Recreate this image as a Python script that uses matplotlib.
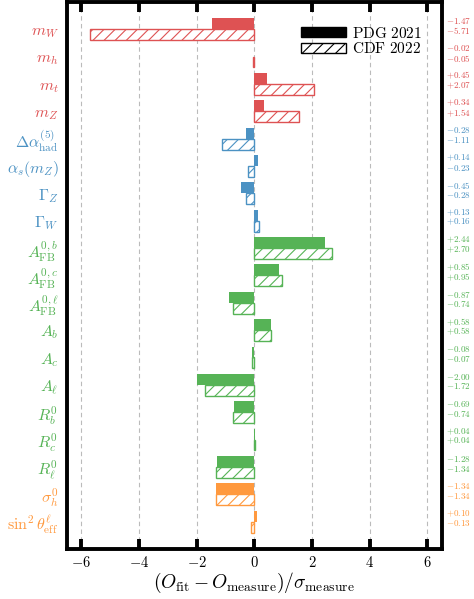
import numpy as np
import matplotlib
matplotlib.use("Agg")
import matplotlib.pyplot as plt
import matplotlib.patches as mpatches
from matplotlib.colors import to_rgb

plt.rcParams["mathtext.fontset"] = "cm"
plt.rcParams["font.family"] = ["DejaVu Serif"]
plt.rcParams["hatch.linewidth"] = 0.8

# --- observables and pulls -------------------------------------------------
labels = [
    r"$m_W$", r"$m_h$", r"$m_t$", r"$m_Z$",
    r"$\Delta\alpha^{(5)}_{\rm had}$", r"$\alpha_s(m_Z)$", r"$\Gamma_Z$", r"$\Gamma_W$",
    r"$A^{0,b}_{\rm FB}$", r"$A^{0,c}_{\rm FB}$", r"$A^{0,\ell}_{\rm FB}$",
    r"$A_b$", r"$A_c$", r"$A_\ell$",
    r"$R^0_b$", r"$R^0_c$", r"$R^0_\ell$",
    r"$\sigma^0_h$", r"$\sin^2\theta^\ell_{\rm eff}$",
]
groups = ["red"] * 4 + ["blue"] * 4 + ["green"] * 9 + ["orange"] * 2

pull_pdg = [-1.47, -0.02, 0.45, 0.34, -0.28, 0.14, -0.45, 0.13,
            2.44, 0.85, -0.87, 0.58, -0.08, -2.00, -0.69, 0.04, -1.28,
            -1.34, 0.10]
pull_cdf = [-5.71, -0.05, 2.07, 1.54, -1.11, -0.23, -0.28, 0.16,
            2.70, 0.95, -0.74, 0.58, -0.07, -1.72, -0.74, 0.04, -1.34,
            -1.34, -0.13]

xticks = [-6, -4, -2, 0, 2, 4, 6]

# tab colours faded to 80% on white
base = {"red": "tab:red", "blue": "tab:blue", "green": "tab:green", "orange": "tab:orange"}
def faded(c, a=0.8):
    r = np.array(to_rgb(c))
    return tuple(a * r + (1 - a))
colors = [faded(base[g]) for g in groups]

rows = np.arange(1, len(labels) + 1)

fig = plt.figure(figsize=(4.74, 5.99), dpi=100)
ax = fig.add_axes([0.141, 0.0835, 0.791, 0.9135])

ax.set_axisbelow(True)
ax.xaxis.grid(True, ls=(0, (4, 3)), color="#bbbbbb", lw=0.8)

ax.barh(rows - 0.2, pull_pdg, height=0.4, color=colors, linewidth=0)
ax.barh(rows + 0.2, pull_cdf, height=0.4, facecolor="white",
        edgecolor=colors, hatch="///", linewidth=1.0)

ax.set_xlim(-6.5, 6.5)
ax.set_ylim(len(labels) + 1, 0)

ax.set_xticks(xticks)
ax.set_xticklabels([f"${t}$" for t in xticks], fontsize=10.5)
ax.set_yticks(rows)
ax.set_yticklabels(labels, fontsize=11.5)
for lab, c in zip(ax.get_yticklabels(), colors):
    lab.set_color(c)

ax.tick_params(axis="x", direction="in", length=7.2, width=2.8, top=True, pad=4)
ax.tick_params(axis="y", length=0, pad=6)
for sp in ax.spines.values():
    sp.set_linewidth(2.8)

ax.set_xlabel(r"$(O_{\rm fit}-O_{\rm measure})/\sigma_{\rm measure}$", fontsize=14, labelpad=1)

# pull values printed beside each row (PDG above, CDF below)
ytr = ax.get_yaxis_transform()
for r, p, q, c in zip(rows, pull_pdg, pull_cdf, colors):
    ax.text(1.01, r - 0.30, f"${p:+.2f}$", color=c, fontsize=6.5,
            ha="left", va="center", transform=ytr)
    ax.text(1.01, r + 0.06, f"${q:+.2f}$", color=c, fontsize=6.5,
            ha="left", va="center", transform=ytr)

handles = [
    mpatches.Patch(facecolor="black", edgecolor="black", label=r"$\rm PDG\ 2021$"),
    mpatches.Patch(facecolor="white", edgecolor="black", hatch="///", label=r"$\rm CDF\ 2022$"),
]
ax.legend(handles=handles, loc="upper right", bbox_to_anchor=(0.955, 0.962), frameon=False,
          fontsize=11, handlelength=2.95, handleheight=0.6, handletextpad=0.4,
          labelspacing=0.05, borderaxespad=0.0, borderpad=0.2)

fig.savefig("out.png", dpi=100)
